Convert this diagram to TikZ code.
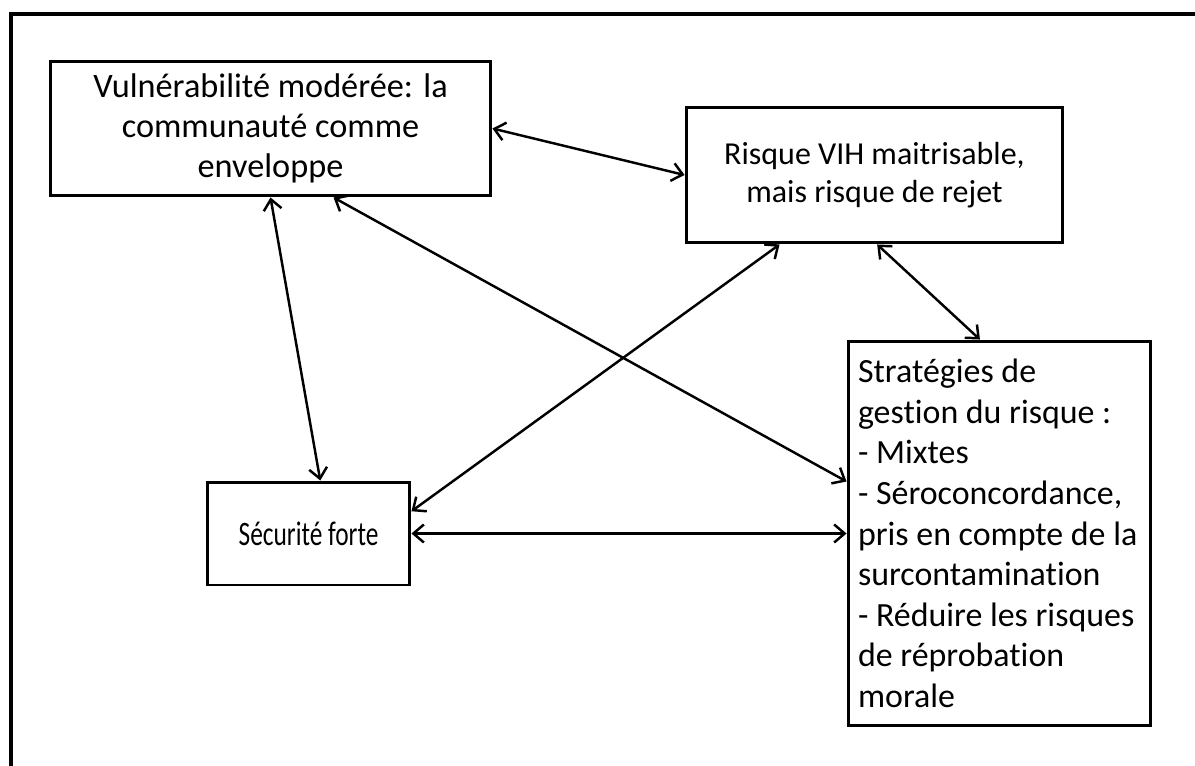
\documentclass[tikz,border=0pt]{standalone}
\usepackage{fontspec}
\setmainfont[Ligatures=NoCommon]{Carlito}
\newfontfamily\narrowfont[Ligatures=NoCommon, FakeStretch=0.74]{Carlito}
\usetikzlibrary{arrows.meta,calc}

\begin{document}
\begin{tikzpicture}[%
    x=0.02cm, y=-0.02cm,          % one unit is one pixel of the sketch
    >={Straight Barb[length=2.1mm,width=3.6mm]},
    ]
% -------------------------------------------------
% Box and connector styles
\tikzset{
  base/.style={draw, line width=1.7pt, rectangle, inner sep=0pt},
  mid/.style={base, align=center},
  list/.style={base, align=flush left, inner xsep=0.2cm},
  link/.style={<->, line width=1.4pt},
  frame/.style={line width=1.8pt}
}
\useasboundingbox (0,0) rectangle (1195,766);
% open frame round the figure
\draw [frame] (11,766) -- (11,14) -- (1195,14);
% -------------------------------------------------
% Start by placing the boxes
\node [mid, minimum width=8.82cm, minimum height=2.70cm,
  font={\fontsize{19.5}{22.6}\selectfont}] (vuln) at (270.5,128.5)
  {Vulnérabilité modérée: la\\communauté comme\\enveloppe};
\node [mid, minimum width=7.54cm, minimum height=2.72cm,
  font={\fontsize{18.2}{21.5}\selectfont}] (risque) at (874.5,175)
  {Risque VIH maitrisable,\\mais risque de rejet};
\node [mid, minimum width=4.06cm, minimum height=2.06cm,
  font={\narrowfont\fontsize{19.5}{22.6}\selectfont}] (secu) at (308.5,533.5)
  {Sécurité forte};
\node [list, text width=5.66cm, minimum height=7.70cm,
  font={\fontsize{19.3}{23.1}\selectfont}] (strat) at (999.5,533.5)
  {Stratégies de\\gestion du risque :\\- Mixtes\\- Séroconcordance,\\pris en compte de la\\surcontamination\\- Réduire les risques\\de réprobation\\morale};
% -------------------------------------------------
% Then the two-way links
\draw [link] (vuln.east) -- (risque.west);
\draw [link] ($(vuln.south west)!0.5!(vuln.south east)$)
  -- ($(secu.north west)!0.557!(secu.north east)$);
\draw [link] ($(vuln.south west)!0.642!(vuln.south east)$)
  -- ($(strat.north west)!0.366!(strat.south west)$);
\draw [link] ($(risque.south west)!0.25!(risque.south east)$)
  -- ($(secu.north east)!0.29!(secu.south east)$);
\draw [link] ($(risque.south west)!0.507!(risque.south east)$)
  -- ($(strat.north west)!0.436!(strat.north east)$);
\draw [link] (secu.east) -- (strat.west);
% -------------------------------------------------
\end{tikzpicture}
\end{document}
